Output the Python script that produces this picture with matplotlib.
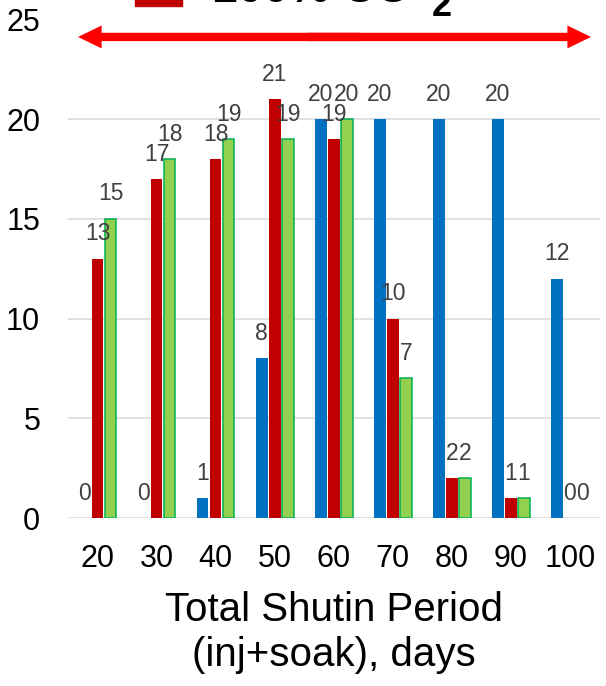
import numpy as np
import matplotlib
matplotlib.use("Agg")
import matplotlib.pyplot as plt
from matplotlib.patches import Rectangle

plt.rcParams["font.family"] = ["Liberation Sans", "DejaVu Sans"]

# Total shut-in period (days) and counts per case
periods = ["20", "30", "40", "50", "60", "70", "80", "90", "100"]
blue_vals = [0, 0, 1, 8, 20, 20, 20, 20, 12]
red_vals = [13, 17, 18, 21, 19, 10, 2, 1, 0]
green_vals = [15, 18, 19, 19, 20, 7, 2, 1, 0]

BLUE = "#0070C0"
RED = "#C00000"
GREEN = "#92D050"
GREEN_EDGE = "#00B050"
LABEL_GREY = "#404040"

fig = plt.figure(figsize=(6.06, 6.86), dpi=100)
ax = fig.add_axes([68 / 606, 168 / 686, 531.5 / 606, 498.5 / 686])

x = np.arange(len(periods))
w = 0.198
step = 0.22

series = [
    (blue_vals, -step, BLUE, "none"),
    (red_vals, 0.0, RED, "none"),
    (green_vals, step, GREEN, GREEN_EDGE),
]
for vals, off, fc, ec in series:
    bars = ax.bar(x + off, vals, width=w, color=fc, edgecolor=ec,
                  linewidth=1.1, zorder=2)
    for b, v in zip(bars, vals):
        if v == 0:
            b.set_linewidth(0)
        ax.annotate(str(v), (b.get_x() + b.get_width() / 2, v),
                    xytext=(0, 18), textcoords="offset points",
                    ha="center", va="center", fontsize=16.5,
                    color=LABEL_GREY, zorder=5)

ax.set_xlim(-0.5, len(periods) - 0.5)
ax.set_ylim(0, 25)
ax.set_yticks(range(0, 26, 5))
ax.set_xticks(x)
ax.set_xticklabels(periods)
ax.tick_params(axis="both", length=0, labelsize=22)
ax.tick_params(axis="x", pad=19)
ax.tick_params(axis="y", pad=20)
ax.yaxis.grid(True, color="#D9D9D9", linewidth=1.1, zorder=0)
ax.set_axisbelow(True)
for s in ax.spines.values():
    s.set_visible(False)

# double-headed red arrow across the full period range (two halves, overlapping)
for end, start in ((0.0188, 0.55), (0.984, 0.45)):
    ax.annotate("", xy=(end, 0.965), xytext=(start, 0.965),
                xycoords="axes fraction", textcoords="axes fraction",
                arrowprops=dict(arrowstyle="simple,head_length=17,head_width=16.5,tail_width=6",
                                mutation_scale=1, color="#FF0000", lw=0,
                                shrinkA=0, shrinkB=0))

# legend entry at the top, partly running off the figure
fig.patches.append(Rectangle((135 / 606, 1 - 5.7 / 686), 47 / 606, 40 / 686,
                             transform=fig.transFigure, color=RED))
fig.text(212 / 606, 1 - 2.5 / 686, "100% CO", fontsize=33, fontweight="bold",
         ha="left", va="baseline")
fig.text(432 / 606, 1 - 16 / 686, "2", fontsize=26, fontweight="bold",
         ha="left", va="baseline")

# x-axis title
fig.text(334 / 606, 1 - 621 / 686, "Total Shutin Period", fontsize=29,
         ha="center", va="baseline")
fig.text(334 / 606, 1 - 666 / 686, "(inj+soak), days", fontsize=29,
         ha="center", va="baseline")

fig.savefig("out.png", dpi=100)
